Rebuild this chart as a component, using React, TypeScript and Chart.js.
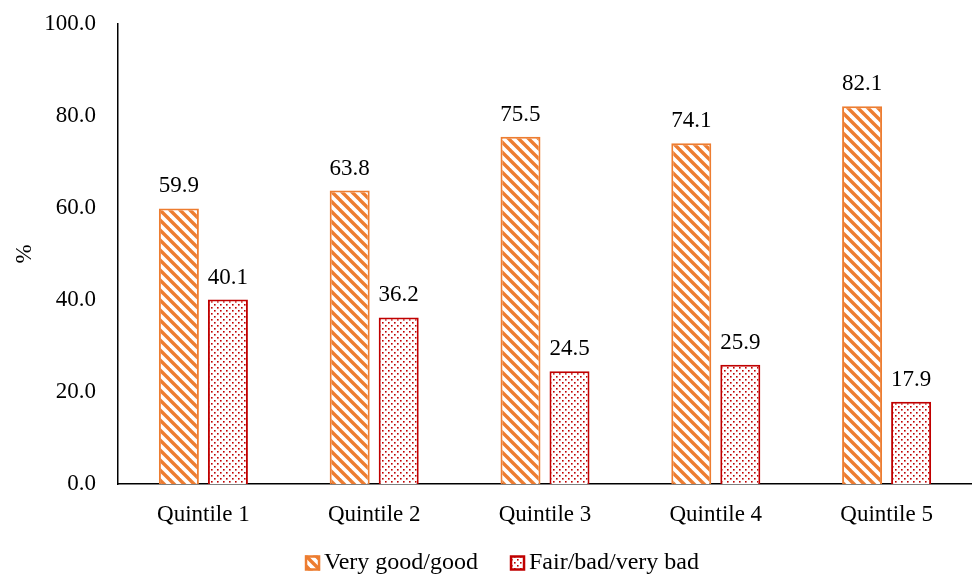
import React, { useEffect, useRef } from "react";
import { Chart, registerables } from "chart.js";

Chart.register(...registerables);

const categories = ["Quintile 1", "Quintile 2", "Quintile 3", "Quintile 4", "Quintile 5"];
const goodValues = [59.9, 63.8, 75.5, 74.1, 82.1];
const badValues = [40.1, 36.2, 24.5, 25.9, 17.9];
const seriesNames = ["Very good/good", "Fair/bad/very bad"];
const yTicks = [0, 20, 40, 60, 80, 100];

const FONT = "'Liberation Serif', 'Times New Roman', serif";
const FSIZE = 23;
const LEGEND_SIZE = 24;
const ORANGE = "#ED7D31";
const RED = "#C00000";

function makeHatch(): CanvasPattern | string {
  const c = document.createElement("canvas");
  c.width = 10;
  c.height = 10;
  const g = c.getContext("2d");
  if (!g) return ORANGE;
  g.fillStyle = "#fff";
  g.fillRect(0, 0, 10, 10);
  g.strokeStyle = ORANGE;
  g.lineWidth = 3.4;
  for (let k = -1; k <= 1; k++) {
    g.beginPath();
    g.moveTo(-3, -3 + k * 10);
    g.lineTo(13, 13 + k * 10);
    g.stroke();
  }
  return g.createPattern(c, "repeat") || ORANGE;
}

function makeDots(): CanvasPattern | string {
  const c = document.createElement("canvas");
  c.width = 6;
  c.height = 6;
  const g = c.getContext("2d");
  if (!g) return RED;
  g.fillStyle = "#fff";
  g.fillRect(0, 0, 6, 6);
  g.fillStyle = RED;
  g.fillRect(1, 1, 1.6, 1.6);
  g.fillRect(4, 4, 1.6, 1.6);
  return g.createPattern(c, "repeat") || RED;
}

const valueLabels = {
  id: "valueLabels",
  afterDatasetsDraw(chart: any) {
    const ctx = chart.ctx;
    ctx.save();
    ctx.font = `${FSIZE}px ${FONT}`;
    ctx.fillStyle = "#000";
    ctx.textAlign = "center";
    ctx.textBaseline = "alphabetic";
    chart.data.datasets.forEach((ds: any, i: number) => {
      const meta = chart.getDatasetMeta(i);
      meta.data.forEach((bar: any, j: number) => {
        ctx.fillText(Number(ds.data[j]).toFixed(1), bar.x, bar.y - 16);
      });
    });
    ctx.restore();
  },
};

const customLegend = {
  id: "customLegend",
  afterDraw(chart: any) {
    const ctx = chart.ctx;
    ctx.save();
    ctx.font = `${LEGEND_SIZE}px ${FONT}`;
    const box = 15;
    const gap = 4;
    const spacing = 32;
    const items = chart.data.datasets.map((ds: any) => ({
      text: ds.label,
      fill: ds.backgroundColor,
      stroke: ds.borderColor,
      w: ctx.measureText(ds.label).width,
    }));
    const total =
      items.reduce((s: number, it: any) => s + box + gap + it.w, 0) + spacing * (items.length - 1);
    let x = chart.width / 2 + 16 - total / 2;
    const cy = 563;
    items.forEach((it: any) => {
      ctx.fillStyle = it.fill;
      ctx.fillRect(x, cy - box / 2, box, box);
      ctx.strokeStyle = it.stroke;
      ctx.lineWidth = 2.5;
      ctx.strokeRect(x + 1, cy - box / 2 + 1, box - 2, box - 2);
      ctx.fillStyle = "#000";
      ctx.textAlign = "left";
      ctx.textBaseline = "middle";
      ctx.fillText(it.text, x + box + gap, cy);
      x += box + gap + it.w + spacing;
    });
    ctx.restore();
  },
};

export default function App() {
  const ref = useRef<HTMLCanvasElement | null>(null);
  useEffect(() => {
    if (!ref.current) return;
    const chart = new Chart(ref.current, {
      type: "bar",
      data: {
        labels: categories,
        datasets: [
          {
            label: seriesNames[0],
            data: goodValues,
            backgroundColor: makeHatch() as any,
            borderColor: ORANGE,
            borderWidth: 2,
            categoryPercentage: 0.574,
            barPercentage: 0.816,
          },
          {
            label: seriesNames[1],
            data: badValues,
            backgroundColor: makeDots() as any,
            borderColor: RED,
            borderWidth: 2,
            categoryPercentage: 0.574,
            barPercentage: 0.816,
          },
        ],
      },
      options: {
        animation: false,
        responsive: false,
        maintainAspectRatio: false,
        layout: { padding: { top: 24, left: 0, right: 0, bottom: 0 } },
        scales: {
          y: {
            min: 0,
            max: 100,
            afterBuildTicks(scale: any) {
              scale.ticks = yTicks.map((v) => ({ value: v }));
            },
            afterFit(scale: any) {
              scale.width = 118;
              scale.paddingTop = 0;
              scale.paddingBottom = 0;
            },
            ticks: {
              callback: (v: any) => Number(v).toFixed(1),
              font: { family: FONT, size: FSIZE },
              color: "#000",
              padding: 22,
            },
            grid: { display: false, drawTicks: false },
            border: { display: true, color: "#000", width: 1.5 },
            title: {
              display: true,
              text: "%",
              font: { family: FONT, size: FSIZE },
              color: "#000",
              padding: { top: 11, bottom: 0 },
            },
          },
          x: {
            afterFit(scale: any) {
              scale.height = 90;
            },
            ticks: {
              font: { family: FONT, size: FSIZE },
              color: "#000",
              padding: 17,
            },
            grid: { display: false, drawTicks: false },
            border: { display: true, color: "#000", width: 1.5 },
          },
        },
        plugins: {
          legend: { display: false },
          tooltip: { enabled: false },
        },
      },
      plugins: [valueLabels, customLegend],
    });
    return () => chart.destroy();
  }, []);
  return (
    <div style={{ position: "absolute", left: 0, top: 0, width: 972, height: 574, background: "#fff" }}>
      <canvas ref={ref} width={972} height={574} style={{ width: 972, height: 574, display: "block" }} />
    </div>
  );
}
